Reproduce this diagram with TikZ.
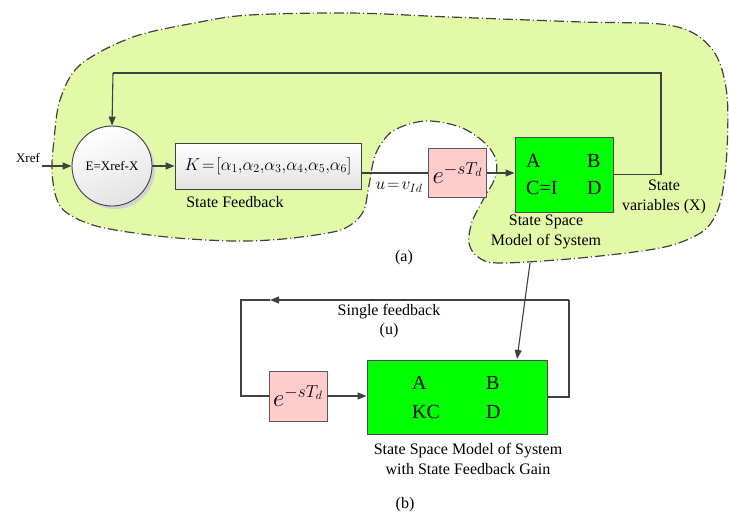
\documentclass[tikz,border=0pt]{standalone}
\usepackage{fontspec}
\setmainfont{Liberation Serif}
\usetikzlibrary{arrows.meta,calc}
\definecolor{blob}{RGB}{226,250,168}
\definecolor{ln}{RGB}{64,64,64}
\definecolor{pinkbox}{RGB}{255,204,204}
\definecolor{greenbox}{RGB}{0,255,0}
\tikzset{
  conn/.style={draw=ln, line width=1.1pt},
  arr/.style={conn, -{Triangle[length=9pt,width=7pt]}},
  delaybox/.style={draw=gray!70!black, line width=0.9pt, fill=pinkbox, minimum width=58pt, minimum height=49pt, inner sep=0pt},
  greenb/.style={draw=gray!60!black, line width=1pt, fill=greenbox, inner sep=0pt},
  lbl/.style={font=\fontsize{16}{19.5}\selectfont, inner sep=0pt, align=center},
  ent/.style={font=\fontsize{20}{22}\selectfont, inner sep=0pt, anchor=west},
  dtext/.style={font=\fontsize{25}{28}\selectfont},
}
\begin{document}
\begin{tikzpicture}[x=1pt,y=-1pt]
\useasboundingbox (0,0) rectangle (729,514);
% blob
\draw[fill=blob, draw=ln, line width=1.2pt, dash pattern=on 10pt off 3pt on 1pt off 3pt]
  plot[smooth cycle, tension=0.55] coordinates {
  (250,15) (350,13) (450,17) (583,22) (660,24) (695,34) (717,57) (727,95) (727,150)
  (722,195) (713,220) (697,235) (660,248) (580,258) (500,263) (478,257) (469,243)
  (472,222) (483,200) (495,178) (496,160) (485,143) (460,127) (425,121) (393,131)
  (376,153) (369,185) (364,210) (352,224) (333,232) (283,239) (233,241) (167,237)
  (100,227) (67,213) (56,197) (52,170) (54,140) (60,100) (80,65) (133,37) (200,22)};
% (a) part
\fill[gray!35] (115,169) circle (40);
\node[circle, draw=ln, line width=0.9pt, minimum size=80pt, inner sep=0pt,
  top color=white, bottom color=gray!22, shading angle=20,
  font=\fontsize{13}{15}\selectfont] (circ) at (112,166) {E=Xref-X};
\node[font=\fontsize{13}{15}\selectfont, inner sep=0pt] (xref) at (28,158) {Xref};
\coordinate (xin) at (42,166);
\draw[arr] (xin) -- (circ.west);
\node[draw=ln, line width=0.9pt, minimum width=186pt, minimum height=46pt, inner sep=0pt,
  top color=white, bottom color=gray!22] (K) at (268,166)
  {\fontsize{18.8}{22}\selectfont$K\!\mathrel{=}\![\alpha_1{,}\alpha_2{,}\alpha_3{,}\alpha_4{,}\alpha_5{,}\alpha_6]$};
\draw[arr] (circ.east) -- (K.west);
\node[lbl] (sf) at (235,202) {State Feedback};
\node[delaybox, dtext] (dA) at (457.5,173) {$e^{-sT_d}$};
\node[greenb, minimum width=98pt, minimum height=75pt] (gA) at (564,174.5) {};
\node[ent] (aA) at (526,161) {A};
\node[ent] (bA) at (587,161) {B};
\node[ent] (cA) at (526,188) {C=I};
\node[ent] (dDA) at (587,188) {D};
\draw[conn] (K.east |- dA.west) -- (dA.west);
\draw[arr] (dA.east) -- (dA.east -| gA.west);
\node[inner sep=0pt] (uv) at (399,187) {\fontsize{18}{20}\selectfont$u\!\mathrel{=}\!v_{Id}$};
\coordinate (fbR) at (661,174.5);
\coordinate (fbTL) at (113,73);
\draw[conn] (gA.east) -- (fbR) |- (fbTL);
\draw[arr] (fbTL) -- (circ.north);
\node[lbl] (ssm) at (546,232) {State Space\\Model of System};
\node[lbl] (sv) at (664,197) {State\\variables (X)};
\node[lbl] (a) at (404,258) {(a)};
% (b) part
\node[greenb, minimum width=180pt, minimum height=74pt] (gB) at (457,397) {};
\node[ent] (aB) at (412,383) {A};
\node[ent] (bB) at (486,383) {B};
\node[ent] (kB) at (412,412) {KC};
\node[ent] (dDB) at (486,412) {D};
\node[delaybox, dtext, minimum height=50pt] (dB) at (298,396) {$e^{-sT_d}$};
\draw[arr] (dB.east) -- (dB.east -| gB.west);
\coordinate (bR) at (569,397);
\coordinate (bTR) at (569,300);
\coordinate (bTA) at (270,300);
\coordinate (bTL) at (241,300);
\draw[conn] (gB.east) -- (bR) -- (bTR);
\draw[arr] (bTR) -- (bTA);
\draw[conn] (bTA) -- (bTL) |- (dB.west);
\node[lbl] (sfb) at (389,321) {Single feedback\\(u)};
\node[lbl] (ssmb) at (468,459) {State Space Model of System\\with State Feedback Gain};
\node[lbl] (b) at (405,505) {(b)};
\coordinate (blobout) at (530,263);
\draw[arr] (blobout) -- (517,359);
\end{tikzpicture}
\end{document}
